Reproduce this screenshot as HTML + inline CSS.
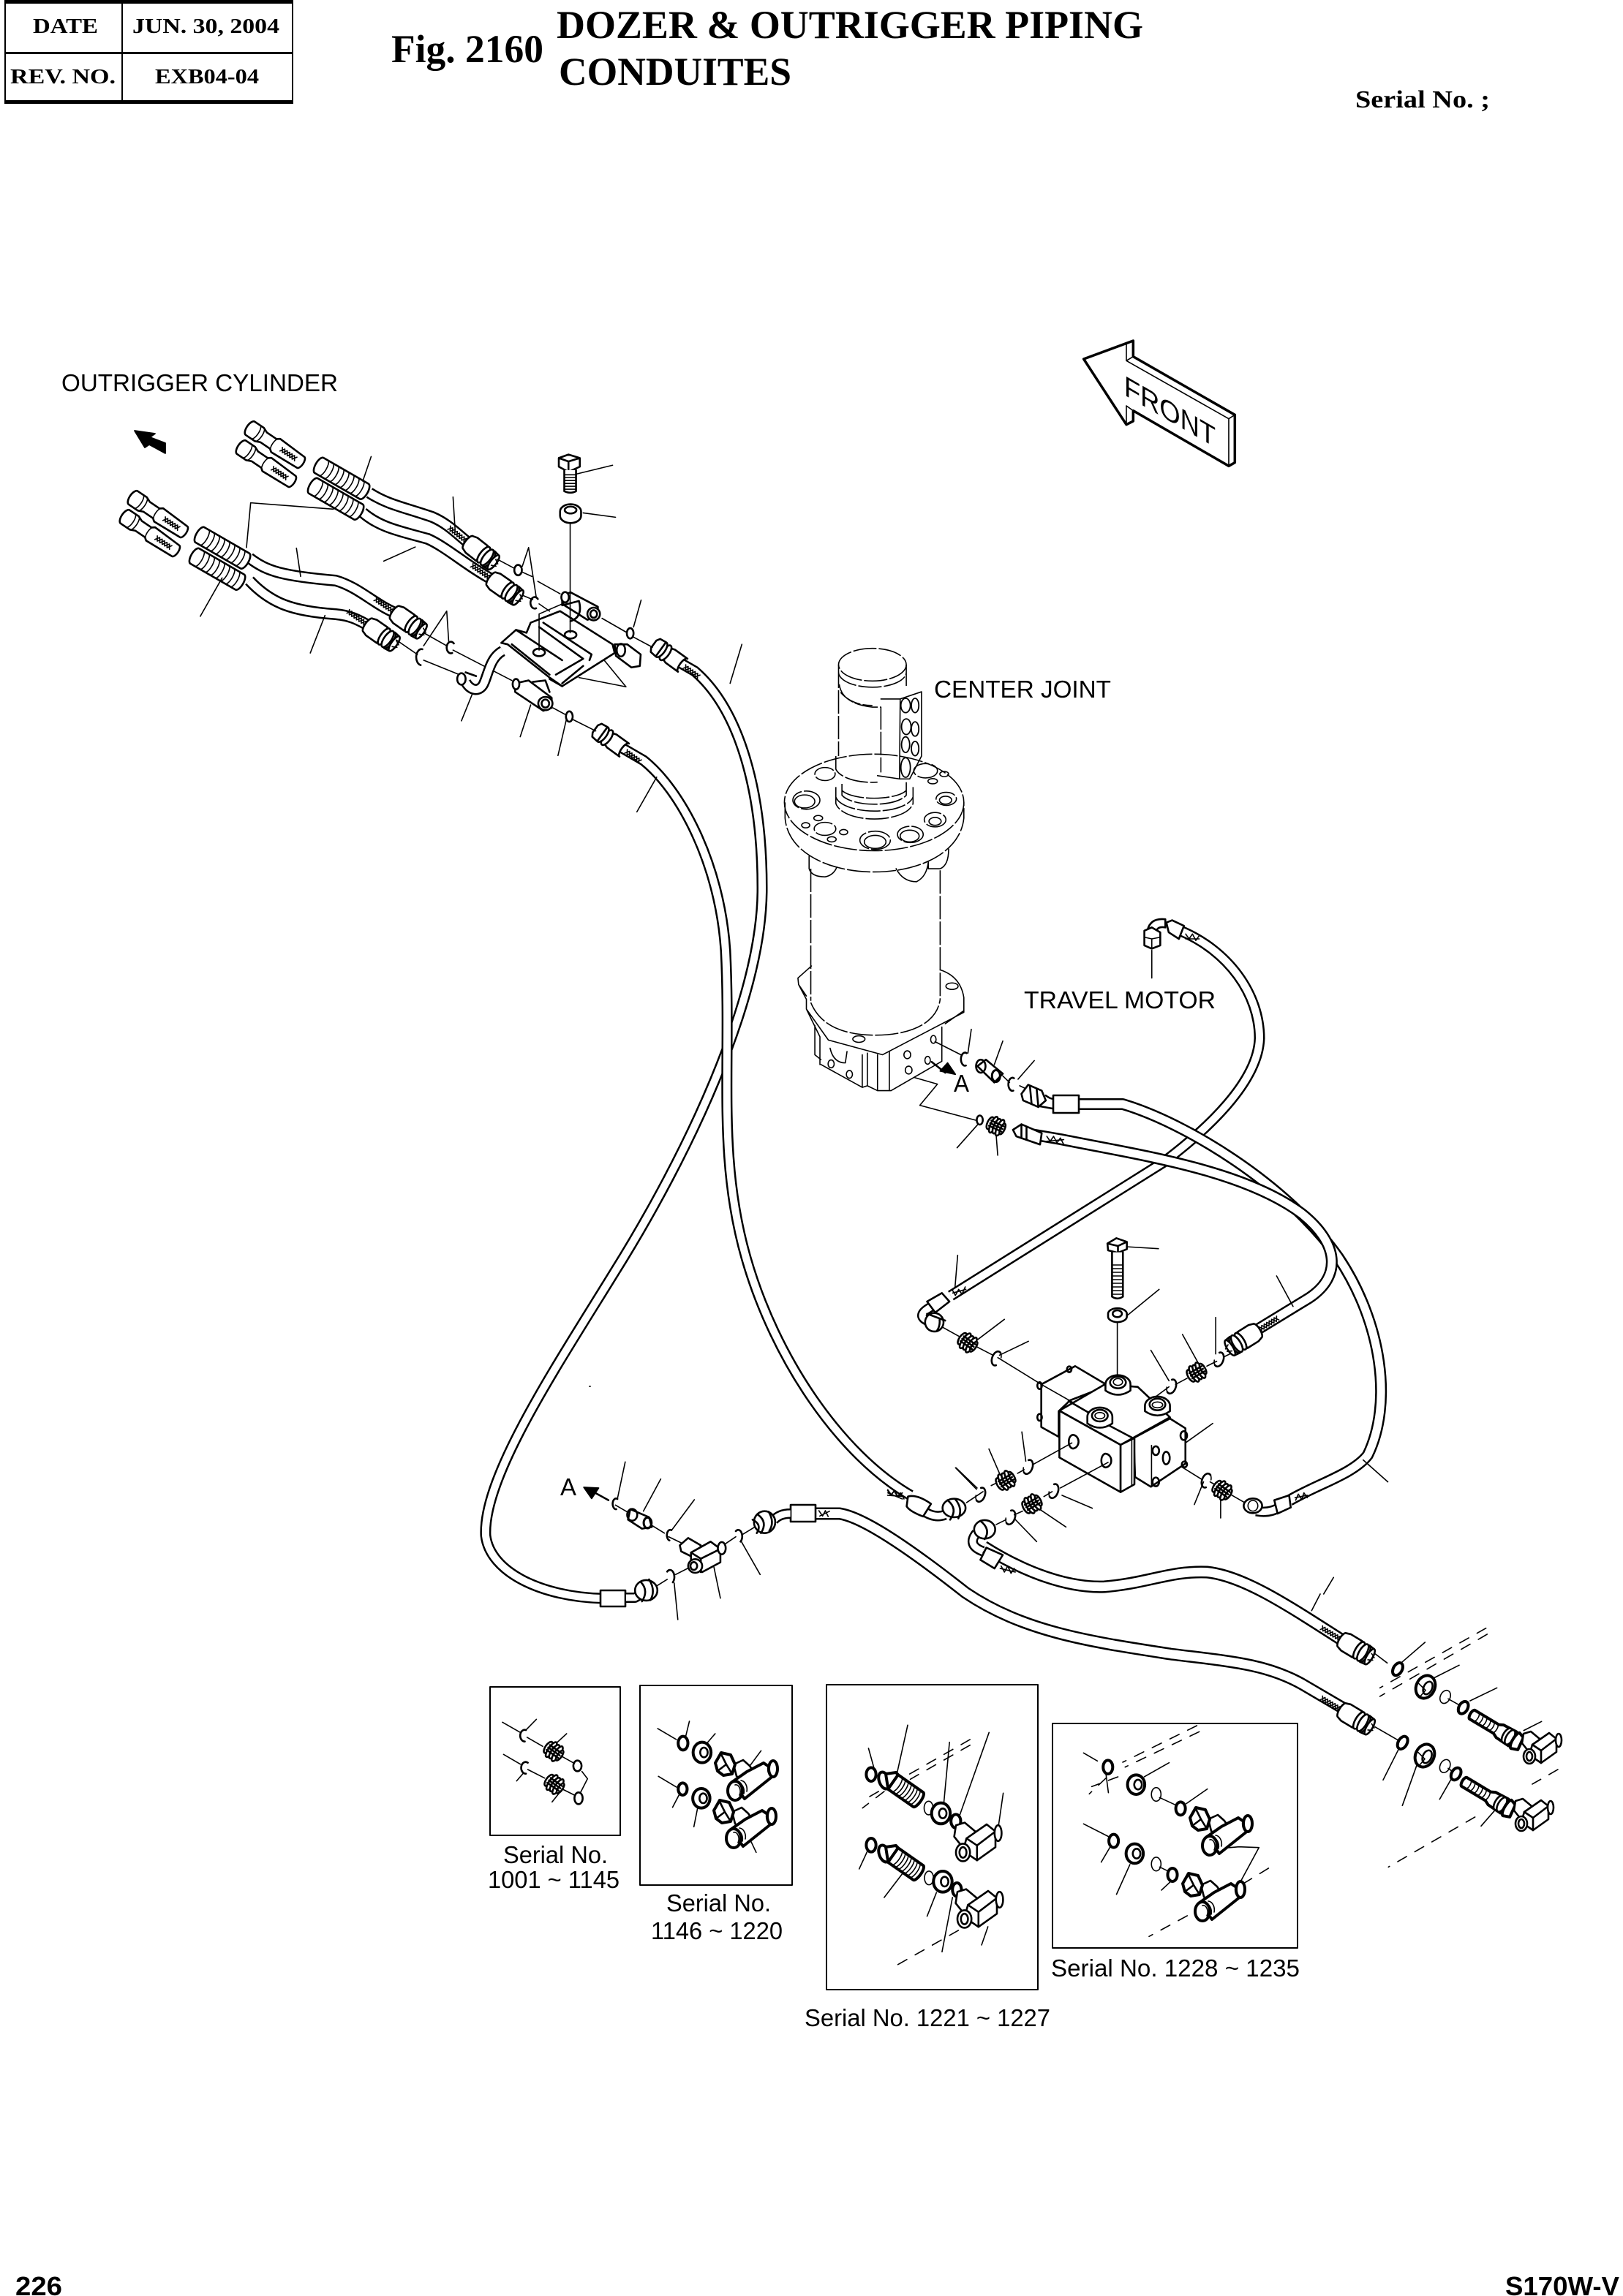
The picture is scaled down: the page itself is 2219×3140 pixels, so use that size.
<!DOCTYPE html>
<html>
<head>
<meta charset="utf-8">
<title>Fig. 2160 Dozer &amp; Outrigger Piping Conduites</title>
<style>
html,body{margin:0;padding:0;background:#fff}
svg{display:block}
svg *{vector-effect:non-scaling-stroke}
path,ellipse,rect,polygon,line{fill:none;stroke:#000;stroke-width:1.8;stroke-linecap:round;stroke-linejoin:round}
.t{stroke-width:1.6}
.m{stroke-width:2.6}
.b{stroke-width:4}
.w{fill:#fff}
.k{fill:#000}
.d{stroke-dasharray:32 3;stroke-linecap:butt;stroke-width:1.6}
.dd{stroke-dasharray:14 13;stroke-width:1.6}
path.to{stroke:#000;stroke-width:16;fill:none;stroke-linecap:butt}
path.ti{stroke:#fff;stroke-width:11;fill:none;stroke-linecap:butt}
text{font-family:"Liberation Sans",sans-serif;fill:#000;stroke:none;font-size:33px}
.s{font-family:"Liberation Serif",serif;font-weight:bold}
.f{font-weight:bold;font-size:36px}
</style>
</head>
<body>
<svg xmlns="http://www.w3.org/2000/svg" width="2219" height="3140" viewBox="0 0 2219 3140">
<defs>
<g id="endfit">
  <path class="t" d="M-33,-3 L-29,3 L-25,-3 L-21,3 L-17,-3 L-13,3 L-9,-3 L-5,3 M-33,3 L-29,-3 L-25,3 L-21,-3 L-17,3 L-13,-3 L-9,3 L-5,-3"/>
  <path class="w m" d="M0,-11 L6,-13 L24,-13 L24,13 L6,13 L0,11 A4 11 0 0 1 0,-11Z"/>
  <ellipse class="w m" cx="27" cy="0" rx="5" ry="13"/>
  <ellipse class="w m" cx="33" cy="0" rx="5" ry="13"/>
  <path class="w m" d="M36,-13 L44,-12 L44,12 L36,13 A5 13 0 0 0 36,-13Z"/>
  <ellipse class="w m" cx="44" cy="0" rx="4" ry="12"/>
  <path class="t" d="M44,-5 L50,-2 M44,5 L50,2"/>
</g>
<g id="hf">
  <path class="t" d="M6,-3 L10,3 L14,-3 L18,3 L22,-3 L26,3 L30,-3 M6,3 L10,-3 L14,3 L18,-3 L22,3 L26,-3 L30,3"/>
  <path class="w m" d="M3,-11 L-18,-11 L-24,-9 L-24,9 L-18,11 L3,11 A4 11 0 0 1 3,-11Z"/>
  <ellipse class="w m" cx="-26" cy="0" rx="5" ry="12"/>
  <ellipse class="w m" cx="-33" cy="0" rx="5" ry="12"/>
  <path class="w m" d="M-34,-12 L-43,-11 L-46,-6 L-46,6 L-43,11 L-34,12Z"/>
</g>
<g id="cp">
  <ellipse class="w m" cx="-9" cy="0" rx="4" ry="9"/>
  <ellipse class="w m" cx="-4" cy="0" rx="4" ry="12"/>
  <ellipse class="w m" cx="1" cy="0" rx="4" ry="11"/>
  <ellipse class="w m" cx="6" cy="0" rx="4" ry="12"/>
  <ellipse class="w m" cx="10" cy="0" rx="3" ry="8"/>
  <path class="m" d="M-9,-4 L10,-4 M-9,0 L10,0 M-9,4 L10,4"/>
</g>
<g id="cr"><path class="m" d="M2,-9 A6 10 0 1 0 2,9"/><path class="t" d="M2,-9 A6 10 0 0 1 5,-3"/></g>
<g id="stub">
  <path class="w m" d="M5,-11 L20,-11 L27,-8 L43,-8 L47,-11 L88,-9 A4 9 0 0 1 88,9 L47,11 L43,8 L27,8 L20,11 L5,11 A5 11 0 0 1 5,-11Z"/>
  <path class="t" d="M14,-11 A4 11 0 0 1 14,11 M20,-11 A4 11 0 0 1 20,11 M47,-11 A5 11 0 0 0 47,11"/>
  <path class="t" d="M56,-3 L60,3 L64,-3 L68,3 L72,-3 L76,3 L80,-3 M56,3 L60,-3 L64,3 L68,-3 L72,3 L76,-3 L80,3"/>
</g>
<g id="rib">
  <path class="w m" d="M5,-12 L76,-12 A5 12 0 0 1 76,12 L5,12 A5 12 0 0 1 5,-12Z"/>
  <path class="t" d="M12,-12 a4 12 0 0 1 0 24 M20,-12 a4 12 0 0 1 0 24 M28,-12 a4 12 0 0 1 0 24 M36,-12 a4 12 0 0 1 0 24 M44,-12 a4 12 0 0 1 0 24 M52,-12 a4 12 0 0 1 0 24 M60,-12 a4 12 0 0 1 0 24 M68,-12 a4 12 0 0 1 0 24"/>
</g>
<g id="tee">
  <path class="w m" d="M12,0 L25,-6 L34,2 L38,8 L26,24 L16,16Z"/>
  <path class="w b" d="M53,-2 L69,9 L67,15 L27,47 L10,24 L30,10Z"/>
  <path class="w b" d="M-13,-2 L-5,-16 L8,-13 L14,0 L10,13 L-2,15 L-10,9Z"/>
  <path class="m" d="M-6,-16 L2,0 L10,13 M2,0 L-10,9"/>
  <ellipse class="w b" cx="14" cy="36" rx="10" ry="13"/>
  <path class="t" d="M18,25 A9 12 0 0 1 26,40 M22,22 A9 12 0 0 1 30,37 M14,28 A6 9 0 0 1 20,42"/>
  <ellipse class="w b" cx="66" cy="6" rx="6" ry="11"/>
  <path class="t" d="M62,-3 A6 10 0 0 0 62,15"/>
</g>
<g id="thb">
  <ellipse class="w b" cx="0" cy="0" rx="7" ry="12" transform="rotate(-20)"/>
  <path class="w b" d="M2,-9 L16,-11 L26,0 L24,12 L12,16 L5,10Z"/>
  <g transform="translate(12,2) rotate(35)">
    <path class="w b" d="M0,-12 L42,-12 A4 12 0 0 1 42,12 L0,12Z"/>
    <path class="t" d="M6,-12a4 12 0 0 1 0 24 M11,-12a4 12 0 0 1 0 24 M16,-12a4 12 0 0 1 0 24 M21,-12a4 12 0 0 1 0 24 M26,-12a4 12 0 0 1 0 24 M31,-12a4 12 0 0 1 0 24 M36,-12a4 12 0 0 1 0 24"/>
  </g>
</g>
<g id="elb">
  <path class="w m" d="M0,-9 L10,-12 L22,-2 L18,10 L6,14 L-2,4Z"/>
  <path class="w m" d="M12,6 L35,-10 L45,-2 L45,16 L24,31 L8,20Z"/>
  <path class="m" d="M12,6 L24,14 L24,31 M24,14 L45,-2"/>
  <ellipse class="w m" cx="48" cy="0" rx="4" ry="9"/>
  <ellipse class="w m" cx="8" cy="22" rx="8" ry="10"/>
  <ellipse class="m" cx="8" cy="22" rx="4" ry="6"/>
</g>
<g id="nut">
  <ellipse class="w b" cx="0" cy="0" rx="11" ry="14" transform="rotate(25)"/>
  <ellipse class="m" cx="3" cy="0" rx="5" ry="8" transform="rotate(25)"/>
  <path class="t" d="M-8,-4 L0,4 L-6,11"/>
</g>
<g id="longth">
  <g transform="rotate(31)">
    <path class="w b" d="M0,-7 L38,-7 L44,-10 L64,-11 A3 11 0 0 1 64,11 L44,10 L38,7 L0,7 A3 7 0 0 1 0,-7Z"/>
    <path class="t" d="M6,-7a3 7 0 0 1 0 14 M12,-7a3 7 0 0 1 0 14 M18,-7a3 7 0 0 1 0 14 M24,-7a3 7 0 0 1 0 14 M30,-7a3 7 0 0 1 0 14 M36,-7a3 7 0 0 1 0 14"/>
    <ellipse class="w m" cx="55" cy="0" rx="5" ry="11"/>
    <ellipse class="w m" cx="60" cy="0" rx="5" ry="11"/>
    <path class="w b" d="M68,-12 L76,-9 L78,9 L70,12 A4 12 0 0 1 68,-12Z"/>
  </g>
</g>
</defs>

<rect x="0" y="0" width="2219" height="3140" style="fill:#fff;stroke:none"/>

<!-- HEADER -->
<path class="k" style="stroke:none" d="M6 0H401V5H6Z M6 71H401V74H6Z M6 137H401V142H6Z"/>
<path style="stroke-width:2" d="M7 0V140 M167 5V137 M400 0V140"/>
<text class="s" x="45" y="45" style="font-size:28px" textLength="89" lengthAdjust="spacingAndGlyphs">DATE</text>
<text class="s" x="181" y="45" style="font-size:28px" textLength="201" lengthAdjust="spacingAndGlyphs">JUN. 30, 2004</text>
<text class="s" x="14" y="114" style="font-size:28px" textLength="144" lengthAdjust="spacingAndGlyphs">REV. NO.</text>
<text class="s" x="212" y="114" style="font-size:28px" textLength="142" lengthAdjust="spacingAndGlyphs">EXB04-04</text>
<text class="s" x="535" y="85" style="font-size:54px" textLength="208" lengthAdjust="spacingAndGlyphs">Fig. 2160</text>
<text class="s" x="761" y="52" style="font-size:54px" textLength="802" lengthAdjust="spacingAndGlyphs">DOZER &amp; OUTRIGGER PIPING</text>
<text class="s" x="764" y="116" style="font-size:54px" textLength="318" lengthAdjust="spacingAndGlyphs">CONDUITES</text>
<text class="s" x="1853" y="147" style="font-size:34px" textLength="184" lengthAdjust="spacingAndGlyphs">Serial No. ;</text>

<!-- FOOTER -->
<text class="f" x="21" y="3139" textLength="64" lengthAdjust="spacingAndGlyphs">226</text>
<text class="f" x="2058" y="3139" textLength="156" lengthAdjust="spacingAndGlyphs">S170W-V</text>

<!-- LABELS -->
<text x="84" y="535" textLength="378" lengthAdjust="spacingAndGlyphs">OUTRIGGER CYLINDER</text>
<text x="1277" y="954" textLength="242" lengthAdjust="spacingAndGlyphs">CENTER JOINT</text>
<text x="1400" y="1379" textLength="262" lengthAdjust="spacingAndGlyphs">TRAVEL MOTOR</text>
<text x="1304" y="1493" textLength="21" lengthAdjust="spacingAndGlyphs">A</text>
<text x="766" y="2045" textLength="22" lengthAdjust="spacingAndGlyphs">A</text>
<text x="688" y="2548" textLength="143" lengthAdjust="spacingAndGlyphs">Serial No.</text>
<text x="667" y="2582" textLength="180" lengthAdjust="spacingAndGlyphs">1001 ~ 1145</text>
<text x="911" y="2614" textLength="143" lengthAdjust="spacingAndGlyphs">Serial No.</text>
<text x="890" y="2652" textLength="180" lengthAdjust="spacingAndGlyphs">1146 ~ 1220</text>
<text x="1100" y="2771" textLength="336" lengthAdjust="spacingAndGlyphs">Serial No. 1221 ~ 1227</text>
<text x="1437" y="2703" textLength="340" lengthAdjust="spacingAndGlyphs">Serial No. 1228 ~ 1235</text>

<!-- FRONT arrow -->
<g transform="translate(1440,440) scale(.3333)">
  <path class="w b" style="stroke-width:3.5" d="M125 153 L328 78 L328 143 L745 382 L745 578 L720 592 L328 365 L328 408 L300 422 Z"/>
  <path class="t" d="M300 88 V160 L720 398 V592 M300 160 L328 143 M720 398 L745 382 M300 345 V422 M300 345 L328 365"/>
</g>
<text transform="translate(1537,540) skewY(30)" style="font-size:39px" x="0" y="0" textLength="125" lengthAdjust="spacingAndGlyphs">FRONT</text>

<polygon class="k" points="184,589 212,593 205,598 226,606 226,620 204,608 198,612"/>
<path d="M806 1896h1"/>

<!-- LONG HOSES -->
<path class="to" style="stroke-width:15" d="M1612 1272 C1680 1300 1722 1360 1722 1420 C1720 1480 1650 1545 1590 1590 L1300 1772"/>
<path class="ti" style="stroke-width:10" d="M1612 1272 C1680 1300 1722 1360 1722 1420 C1720 1480 1650 1545 1590 1590 L1300 1772"/>
<path class="to" d="M1466 1510 L1535 1510 C1620 1535 1760 1620 1830 1720 C1890 1810 1904 1920 1870 1990 C1850 2016 1800 2030 1763 2052"/>
<path class="ti" d="M1466 1510 L1535 1510 C1620 1535 1760 1620 1830 1720 C1890 1810 1904 1920 1870 1990 C1850 2016 1800 2030 1763 2052"/>
<path class="to" d="M1392 1548 L1450 1558 C1560 1580 1700 1600 1780 1660 C1830 1700 1835 1745 1790 1775 L1700 1830"/>
<path class="ti" d="M1392 1548 L1450 1558 C1560 1580 1700 1600 1780 1660 C1830 1700 1835 1745 1790 1775 L1700 1830"/>
<path class="to" style="stroke-width:15" d="M905 892 L950 918 C1010 970 1043 1080 1042 1220 C1040 1370 940 1580 840 1740 C760 1870 660 2020 664 2100 C670 2150 740 2184 824 2186"/>
<path class="ti" style="stroke-width:10" d="M905 892 L950 918 C1010 970 1043 1080 1042 1220 C1040 1370 940 1580 840 1740 C760 1870 660 2020 664 2100 C670 2150 740 2184 824 2186"/>
<path class="to" style="stroke-width:15" d="M825 1008 L880 1040 C930 1080 984 1180 992 1300 C1000 1460 980 1580 1020 1720 C1060 1860 1150 1990 1245 2045"/>
<path class="ti" style="stroke-width:10" d="M825 1008 L880 1040 C930 1080 984 1180 992 1300 C1000 1460 980 1580 1020 1720 C1060 1860 1150 1990 1245 2045"/>
<path class="to" style="stroke-width:17" d="M1345 2115 C1400 2150 1460 2172 1510 2170 C1570 2165 1600 2148 1650 2150 C1700 2155 1760 2195 1838 2245"/>
<path class="ti" style="stroke-width:12" d="M1345 2115 C1400 2150 1460 2172 1510 2170 C1570 2165 1600 2148 1650 2150 C1700 2155 1760 2195 1838 2245"/>
<path class="to" style="stroke-width:17" d="M1112 2070 L1148 2070 C1180 2075 1240 2115 1320 2178 C1400 2232 1490 2245 1600 2262 C1680 2272 1730 2275 1780 2303 L1838 2337"/>
<path class="ti" style="stroke-width:12" d="M1112 2070 L1148 2070 C1180 2075 1240 2115 1320 2178 C1400 2232 1490 2245 1600 2262 C1680 2272 1730 2275 1780 2303 L1838 2337"/>
<path class="to" d="M505 674 C530 690 550 693 591 707 C612 716 625 730 640 742"/><path class="ti" d="M505 674 C530 690 550 693 591 707 C612 716 625 730 640 742"/>
<path class="to" d="M496 701 C520 722 550 727 585 737 C610 748 640 775 672 792"/><path class="ti" d="M496 701 C520 722 550 727 585 737 C610 748 640 775 672 792"/>
<path class="to" d="M341 763 C365 782 390 788 459 794 C490 803 510 825 540 838"/><path class="ti" d="M341 763 C365 782 390 788 459 794 C490 803 510 825 540 838"/>
<path class="to" d="M341 794 C370 825 400 836 459 840 C480 842 490 848 503 855"/><path class="ti" d="M341 794 C370 825 400 836 459 840 C480 842 490 848 503 855"/>

<rect class="w m" x="1440" y="1498" width="35" height="24"/>
<rect class="w m" x="821" y="2175" width="34" height="22"/>
<rect class="w m" x="1081" y="2058" width="34" height="23"/>

<!-- TOP-LEFT -->
<use href="#stub" transform="translate(338,583) rotate(34)"/>
<use href="#stub" transform="translate(326,609) rotate(34)"/>
<use href="#stub" transform="translate(178,678) rotate(34)"/>
<use href="#stub" transform="translate(167,704) rotate(34)"/>
<use href="#rib" transform="translate(432,634) rotate(30)"/>
<use href="#rib" transform="translate(424,662) rotate(30)"/>
<use href="#rib" transform="translate(269,729) rotate(30)"/>
<use href="#rib" transform="translate(262,758) rotate(30)"/>
<use href="#endfit" transform="translate(640,742) rotate(38)"/>
<use href="#endfit" transform="translate(672,792) rotate(35)"/>
<use href="#endfit" transform="translate(540,838) rotate(35)"/>
<use href="#endfit" transform="translate(503,855) rotate(35)"/>
<use href="#hf" transform="translate(931,908) rotate(36)"/>
<use href="#hf" transform="translate(851,1024) rotate(36)"/>

<!-- ZOOM 2 REGION -->
<g transform="translate(120,500) scale(.574,.395)">
  <path class="t" d="M675 315 L655 400 M870 455 L875 570 M1250 345 L1165 375 M1257 525 L1180 510 M705 677 L780 628 M388 475 L585 497 M388 475 L378 630 M497 632 L507 730 M268 868 L320 735 M530 995 L565 865 M1050 630 L1035 695 M1050 630 L1068 800 M855 850 L800 970 M855 850 L860 960 M1318 812 L1300 905 M1558 965 L1530 1100 M890 1230 L915 1140 M1030 1285 L1055 1175 M1120 1350 L1140 1225 M1355 1425 L1308 1545 M1282 1112 L1230 1020 M1282 1112 L1170 1080"/>
  <path class="t" d="M975 670 L1020 705 M1035 715 L1058 730 M1072 747 L1125 790 M1035 795 L1060 810 M1075 825 L1100 850 M1225 875 L1285 925 M1300 940 L1345 975 M800 925 L855 970 M870 985 L1010 1090 M735 950 L785 1000 M800 1020 L885 1070 M1108 1185 L1140 1210 M1155 1225 L1210 1265"/>
  <path class="w m" d="M985 960 L1020 915 L1045 925 L1055 890 L1125 850 L1250 965 L1255 995 L1130 1110 L1100 1080 L1000 965 Z"/>
  <path class="m" d="M1010 965 L1100 1070 M1085 890 L1200 1000 L1195 1020 M1075 905 L1180 1015 L1115 1070 M1180 1040 L1130 1100 M1020 915 L1130 1020"/>
  <path class="w m" d="M1130 795 L1150 785 L1215 835 L1215 870 L1190 880 L1130 825 Z"/>
  <ellipse class="w m" cx="1205" cy="860" rx="15" ry="22"/><ellipse class="m" cx="1205" cy="860" rx="8" ry="13"/>
  <ellipse class="w m" cx="1137" cy="802" rx="9" ry="18"/>
  <path class="m" d="M1130 830 L1170 815 Q1180 870 1150 885"/>
  <path class="w m" d="M1255 965 L1285 965 L1317 1000 L1315 1040 L1295 1045 L1258 1005Z"/>
  <ellipse class="m" cx="1270" cy="985" rx="10" ry="22"/>
  <path class="to" style="stroke-width:15" d="M988 988 C960 1010 955 1060 945 1095 C935 1135 910 1125 900 1095"/>
  <path class="ti" style="stroke-width:10" d="M988 988 C960 1010 955 1060 945 1095 C935 1135 910 1125 900 1095"/>
  <ellipse class="w m" cx="890" cy="1085" rx="10" ry="20"/>
  <path class="m" d="M900 1062 L925 1075"/>
  <path class="w m" d="M1018 1100 L1050 1090 L1105 1150 L1105 1185 L1085 1195 L1018 1130Z"/>
  <ellipse class="w m" cx="1090" cy="1170" rx="17" ry="23"/><ellipse class="m" cx="1090" cy="1170" rx="9" ry="14"/>
  <ellipse class="w m" cx="1020" cy="1103" rx="8" ry="18"/>
  <path class="m" d="M1060 1095 L1090 1090 L1100 1130 M1100 1085 L1130 1110"/>
  <ellipse class="w m" cx="1150" cy="932" rx="14" ry="13"/>
  <ellipse class="w m" cx="1075" cy="993" rx="14" ry="13"/>
  <path class="t" d="M1149 530 V925 M1075 860 V985 M1075 860 L1135 822"/>
  <path class="w m" d="M1122 320 L1145 308 L1172 320 L1172 350 L1145 368 L1122 350Z M1122 320 L1145 332 L1172 320 M1145 332 V368"/>
  <path class="w m" d="M1135 362 V435 Q1150 445 1163 435 V362"/>
  <path class="t" d="M1135 378 H1163 M1135 388 H1163 M1135 398 H1163 M1135 408 H1163 M1135 418 H1163 M1135 428 H1163"/>
  <path class="w m" d="M1125 505 A25 25 0 0 1 1175 505 V520 A25 25 0 0 1 1125 520Z"/>
  <ellipse class="m" cx="1150" cy="500" rx="14" ry="12"/>
  <ellipse class="w m" cx="1025" cy="708" rx="9" ry="18"/>
  <ellipse class="w m" cx="1292" cy="927" rx="8" ry="18"/>
  <ellipse class="w m" cx="1147" cy="1215" rx="8" ry="18"/>
  <path class="m" d="M1072 808 A10 20 0 1 0 1068 840 M872 962 A10 20 0 1 0 868 995 M797 982 A10 22 0 1 0 793 1037"/>
</g>

<!-- ZOOM 3 REGION: CENTER JOINT -->
<g transform="translate(1040,880) scale(.463,.4464)">
  <ellipse class="d" cx="330" cy="65" rx="100" ry="50"/>
  <path class="d" d="M230 65 V345 M430 65 V130 M230 88 A100 46 0 0 0 430 88 M232 125 Q240 185 330 195 L355 195 V395 M236 150 Q270 190 330 190"/>
  <path class="w t" d="M412 170 L475 148 V345 L440 415 L410 415 Z"/>
  <path class="t" d="M355 170 H412 M345 405 L410 415"/>
  <ellipse style="stroke-width:1.8" cx="428" cy="190" rx="14" ry="22"/><ellipse style="stroke-width:1.8" cx="456" cy="190" rx="11" ry="22"/>
  <ellipse style="stroke-width:1.8" cx="430" cy="255" rx="14" ry="24"/><ellipse style="stroke-width:1.8" cx="456" cy="262" rx="11" ry="22"/>
  <ellipse style="stroke-width:1.8" cx="428" cy="310" rx="12" ry="24"/><ellipse style="stroke-width:1.8" cx="456" cy="322" rx="11" ry="22"/>
  <ellipse style="stroke-width:1.8" cx="428" cy="380" rx="14" ry="30"/>
  <path class="d" d="M222 345 V385 A110 50 0 0 0 345 425 M222 440 V490 A115 55 0 0 0 450 490 V440 M240 430 V465 A100 40 0 0 0 430 465 V425 M222 470 A115 50 0 0 0 450 470 M240 450 A100 35 0 0 0 430 450"/>
  <ellipse class="d" cx="335" cy="487" rx="265" ry="148"/>
  <path class="d" d="M72 487 V535 C80 640 200 700 335 700 C470 700 590 640 600 535 V487"/>
  <ellipse class="d" cx="135" cy="480" rx="40" ry="28"/><ellipse class="t" cx="130" cy="484" rx="30" ry="20"/>
  <ellipse class="d" cx="190" cy="568" rx="32" ry="20"/>
  <ellipse class="d" cx="338" cy="603" rx="45" ry="28"/><ellipse class="t" cx="338" cy="608" rx="32" ry="20"/>
  <ellipse class="d" cx="442" cy="585" rx="38" ry="25"/><ellipse class="t" cx="440" cy="590" rx="28" ry="18"/>
  <ellipse class="d" cx="515" cy="540" rx="32" ry="22"/><ellipse class="t" cx="515" cy="545" rx="18" ry="12"/>
  <ellipse class="d" cx="548" cy="476" rx="30" ry="20"/><ellipse class="t" cx="546" cy="480" rx="18" ry="12"/>
  <ellipse class="d" cx="487" cy="390" rx="35" ry="22"/>
  <ellipse class="d" cx="190" cy="400" rx="30" ry="20"/>
  <ellipse class="t" cx="170" cy="535" rx="13" ry="8"/><ellipse class="t" cx="133" cy="557" rx="12" ry="8"/><ellipse class="t" cx="210" cy="600" rx="13" ry="8"/><ellipse class="t" cx="245" cy="578" rx="12" ry="8"/><ellipse class="t" cx="508" cy="422" rx="14" ry="8"/><ellipse class="t" cx="542" cy="400" rx="13" ry="8"/>
  <path class="t" d="M143 652 V690 Q150 715 190 715 Q215 710 225 685 M400 690 Q420 730 460 730 Q490 715 495 670 V690 H530 Q555 680 555 630"/>
  <path class="d" d="M148 690 V1095 M530 695 V1090"/>
  <path class="d" d="M148 1100 C180 1180 260 1200 340 1200 C430 1200 520 1170 530 1090"/>
  <path class="t" d="M150 988 L110 1025 L112 1045 L135 1090 V1120 L200 1215 L360 1260 L600 1130 V1085 Q590 1020 530 1000 M135 1120 L175 1205 V1290 M160 1170 V1260 L178 1275 M178 1290 L300 1360 L315 1355 L345 1370 L385 1370 L535 1280 V1175 M300 1260 V1360 M315 1255 V1355 M345 1260 V1370 M380 1250 V1370 M112 1045 L135 1080 M545 1165 L600 1125 M205 1240 Q215 1285 250 1285 L255 1250"/>
  <ellipse class="t" cx="565" cy="1050" rx="18" ry="10"/><ellipse class="t" cx="290" cy="1212" rx="18" ry="10"/>
  <ellipse class="t" cx="433" cy="1260" rx="10" ry="12"/><ellipse class="t" cx="437" cy="1307" rx="10" ry="12"/><ellipse class="t" cx="208" cy="1288" rx="9" ry="12"/><ellipse class="t" cx="262" cy="1320" rx="9" ry="12"/>
  <ellipse class="t" cx="510" cy="1213" rx="8" ry="12"/><ellipse class="t" cx="493" cy="1277" rx="8" ry="12"/>
  <path class="t" d="M515 1220 L595 1262 M622 1182 L612 1255 M715 1218 L690 1290 M715 1325 L735 1345 M808 1278 L760 1335 M765 1355 L785 1365 M455 1330 L522 1350 L470 1415 L640 1462 M640 1475 L580 1545 M695 1500 L700 1568"/>
  <path class="m" d="M505 1282 L545 1315"/>
  <polygon class="k" points="575,1320 530,1310 552,1285"/>
  <path class="m" d="M608 1255 A12 20 0 1 0 606 1293"/>
  <path class="w m" d="M640 1295 L665 1275 L715 1318 L690 1345 Z"/>
  <ellipse class="m" cx="650" cy="1295" rx="14" ry="20"/><ellipse class="b" style="stroke-width:3" cx="695" cy="1325" rx="12" ry="18"/>
  <path class="m" d="M748 1332 A12 20 0 1 0 746 1370"/>
  <ellipse class="w m" cx="647" cy="1460" rx="9" ry="14"/>
  <use href="#cp" transform="translate(695,1478) scale(2.1,2.2) rotate(25)"/>
  <path class="to" style="stroke-width:0" d="M0 0"/>
  <path class="w m" d="M745 1490 L770 1473 L830 1500 L825 1535 L755 1510 Z"/>
  <path class="m" d="M770 1473 V1515 M785 1480 V1520"/>
  <path class="t" d="M845 1510 L855 1525 L865 1510 L875 1530 L885 1515 L895 1535 M845 1525 L895 1520"/>
  <path class="w m" d="M770 1380 L790 1352 L830 1370 L842 1400 L820 1420 L775 1400Z"/>
  <path class="m" d="M795 1355 L800 1410 M815 1365 L820 1420"/>
  <path class="m" d="M842 1385 Q855 1395 863 1395 M825 1418 L863 1425"/>
  <path class="m" d="M1142 880 Q1150 840 1195 845 L1195 870 Q1170 865 1168 885"/>
  <path class="w m" d="M1133 880 L1155 870 L1180 885 V925 L1155 935 L1133 925Z"/>
  <path class="t" d="M1133 900 L1155 905 L1180 900 M1155 905 V935"/>
  <path class="t" d="M1155 940 V1025"/>
  <path class="w m" d="M1198 855 L1215 848 L1250 865 L1235 905 L1205 885Z"/>
  <path class="t" d="M1255 890 L1265 905 L1275 890 L1285 910 L1295 895 M1255 905 L1295 905"/>
</g>

<!-- ZOOM 4 REGION: VALVE -->
<g transform="translate(1200,1680) scale(.45,.3333)">
  <path class="t" d="M243 110 L235 240 M853 83 L755 75 M855 250 L760 355 M385 373 L300 460 M458 463 L370 520 M1027 365 V515 M926 435 L975 555 M830 500 L885 625 M1212 195 L1262 320 M1018 800 L935 880 M1550 1040 L1475 950 M438 835 L450 955 M338 905 L370 1005 M238 982 L302 1065 M652 1148 L560 1095 M572 1225 L495 1155 M483 1285 L415 1190 M1042 1188 V1085 M962 1133 L990 1040 M1385 1432 L1355 1500"/>
  <path class="t" d="M365 530 L497 640 M190 400 L250 445 M300 485 L350 520 M845 690 L885 650 M905 640 L940 615 M1000 565 L1030 545 M1055 525 L1085 505 M890 950 L985 1030 M1010 1040 L1030 1055 M1070 1090 L1115 1125 M445 990 L425 1005 M320 1080 L270 1125 M345 1055 L360 1045 M530 1080 L505 1100 M440 1160 L415 1175 M390 1195 L360 1215"/>
  <path class="w m" d="M497 640 L600 565 L700 645 L585 705 L550 750 L550 855 L497 815 Z"/>
  <path class="t" d="M497 640 L640 750"/>
  <path class="w m" d="M778 860 L888 780 L935 820 V965 L830 1060 L782 1020 Z"/>
  <path class="t" d="M832 890 V1060"/>
  <path class="w m" d="M552 748 L690 640 L790 650 L888 775 L738 888 Z"/>
  <path class="m" d="M580 708 L640 755 M705 810 L775 860"/>
  <path class="w m" d="M552 748 V940 L738 1082 V888 Z"/>
  <path class="w m" d="M738 888 L780 860 V1050 L738 1082 Z"/>
  <path class="t" d="M772 865 V1055"/>
  <path class="t" d="M590 880 L470 970 M700 960 L555 1065"/>
  <path class="w m" d="M692 640 V665 Q730 700 768 665 V640 A38 38 0 0 0 692 640Z"/><ellipse class="m" cx="730" cy="632" rx="24" ry="24"/><ellipse class="t" cx="730" cy="630" rx="14" ry="14"/>
  <path class="w m" d="M637 773 V800 Q675 835 713 800 V773 A38 38 0 0 0 637 773Z"/><ellipse class="m" cx="675" cy="768" rx="24" ry="24"/><ellipse class="t" cx="675" cy="768" rx="15" ry="13"/>
  <path class="w m" d="M812 728 V750 Q850 785 888 750 V728 A38 38 0 0 0 812 728Z"/><ellipse class="m" cx="850" cy="722" rx="24" ry="24"/><ellipse class="t" cx="850" cy="724" rx="16" ry="12"/>
  <path class="t" d="M728 385 V600"/>
  <path class="m" d="M597 848 A13 28 0 1 0 597 902 A18 28 0 0 0 597 848"/>
  <path class="m" d="M695 925 A13 28 0 1 0 695 980 A18 28 0 0 0 695 925"/>
  <path class="m" d="M880 918 A10 26 0 1 0 875 968 A12 26 0 0 0 880 918"/>
  <ellipse class="m" cx="930" cy="850" rx="10" ry="18"/><ellipse class="m" cx="845" cy="912" rx="10" ry="18"/><ellipse class="m" cx="845" cy="1040" rx="10" ry="18"/><ellipse class="m" cx="932" cy="968" rx="8" ry="12"/><ellipse class="m" cx="492" cy="645" rx="7" ry="14"/><ellipse class="m" cx="492" cy="775" rx="7" ry="14"/><ellipse class="m" cx="582" cy="578" rx="7" ry="12"/>
  <path class="w m" d="M698 62 L725 40 L757 55 L757 85 L730 100 L700 90Z M698 62 L730 72 L757 55 M730 72 V100"/>
  <path class="w m" d="M712 98 V280 Q728 295 745 280 V98"/>
  <path class="t" d="M712 150 H745 M712 165 H745 M712 180 H745 M712 195 H745 M712 210 H745 M712 225 H745 M712 240 H745 M712 255 H745 M712 270 H745"/>
  <path class="w m" d="M700 350 A28 22 0 0 1 757 350 V362 A28 22 0 0 1 700 362Z"/>
  <ellipse class="m" cx="728" cy="350" rx="14" ry="14"/>
  <path class="to" style="stroke-width:14" d="M135 1155 Q170 1192 205 1175"/><path class="ti" style="stroke-width:9" d="M135 1155 Q170 1192 205 1175"/>
  <path class="w m" d="M92 1100 Q120 1090 162 1130 L138 1182 Q96 1160 88 1140 Z"/><path class="t" d="M30 1075 L40 1095 L50 1078 L60 1100 L70 1085 L80 1110 M30 1095 L78 1100"/>
  <ellipse class="w m" cx="232" cy="1147" rx="35" ry="38"/><path class="m" d="M212 1115 Q245 1150 220 1195 M235 1110 Q260 1150 245 1190"/>
  <path class="to" style="stroke-width:14" d="M1220 1145 Q1190 1170 1150 1160"/><path class="ti" style="stroke-width:9" d="M1220 1145 Q1190 1170 1150 1160"/>
  <path class="w m" d="M1205 1115 L1250 1095 L1255 1145 L1215 1170Z"/><path class="t" d="M1270 1115 L1278 1090 L1288 1112 L1295 1085 L1305 1105 M1268 1105 L1305 1095"/>
  <ellipse class="w m" cx="1140" cy="1138" rx="28" ry="30"/><ellipse class="t" cx="1140" cy="1138" rx="15" ry="22"/>
  <path class="to" style="stroke-width:14" d="M300 1250 Q270 1300 320 1325"/><path class="ti" style="stroke-width:9" d="M300 1250 Q270 1300 320 1325"/>
  <ellipse class="w m" cx="325" cy="1235" rx="32" ry="38"/><path class="m" d="M312 1200 Q345 1235 325 1275"/>
  <path class="w m" d="M330 1310 L380 1340 L355 1395 L312 1360Z"/><path class="t" d="M375 1385 L385 1410 L395 1385 L405 1415 L415 1395 M372 1395 L418 1410"/>
  <path class="to" style="stroke-width:14" d="M165 320 Q115 355 150 378"/><path class="ti" style="stroke-width:9" d="M165 320 Q115 355 150 378"/>
  <ellipse class="w m" cx="172" cy="385" rx="28" ry="38"/><path class="m" d="M150 350 L205 378 M188 375 Q190 400 180 420"/>
  <path class="w m" d="M150 300 L195 265 L218 300 L175 345 Z"/><path class="t" d="M228 255 L236 275 L246 250 L256 270 L266 240 M228 265 L268 250"/>
</g>
<use href="#cp" transform="translate(1323,1836) rotate(35)"/>
<use href="#cp" transform="translate(1636,1877) rotate(-30)"/>
<use href="#cp" transform="translate(1671,2038) rotate(35)"/>
<use href="#cp" transform="translate(1375,2025) rotate(-30)"/>
<use href="#cp" transform="translate(1411,2057) rotate(-30)"/>
<use href="#cr" transform="translate(1363,1858) rotate(20)"/>
<use href="#cr" transform="translate(1601,1896) rotate(200)"/>
<use href="#cr" transform="translate(1666,1859) rotate(200)"/>
<use href="#cr" transform="translate(1650,2025) rotate(20)"/>
<use href="#cr" transform="translate(1405,2006) rotate(200)"/>
<use href="#cr" transform="translate(1340,2044) rotate(200)"/>
<use href="#cr" transform="translate(1440,2039) rotate(200)"/>
<use href="#cr" transform="translate(1381,2075) rotate(200)"/>
<use href="#endfit" transform="translate(1719,1820) rotate(148)"/>

<!-- ZOOM 7 REGION -->
<g transform="translate(740,1960) scale(.3827,.3333)">
  <path class="t" d="M300 118 L272 270 M427 188 L365 320 M547 273 L468 395 M715 445 L782 580 M617 550 L640 677 M475 615 L488 765 M1480 142 L1555 230"/>
  <path class="t" d="M265 295 L310 325 M390 375 L440 410 M455 425 L500 450 M650 460 L695 425 M720 415 L770 380 M480 580 L535 548 M415 625 L450 600"/>
  <path class="m" d="M240 275 L185 240"/>
  <polygon class="k" points="152,222 205,225 180,268"/>
  <path class="m" d="M272 270 A12 22 0 1 0 268 312 M465 398 A12 22 0 1 0 458 440 M695 402 A12 22 0 1 1 712 445 M450 568 A12 22 0 1 1 470 612"/>
  <path class="w m" d="M318 312 L385 345 L395 385 L360 392 L310 355 Z"/>
  <ellipse class="m" cx="325" cy="335" rx="18" ry="24"/><ellipse class="b" style="stroke-width:3" cx="380" cy="368" rx="14" ry="22"/>
  <path class="w m" d="M495 460 L525 430 L570 460 L565 490 L535 505 L500 485Z"/>
  <path class="w m" d="M535 490 L605 445 L640 475 V530 L575 570 L535 520 Z"/>
  <path class="m" d="M570 515 L640 475 M570 515 V570 M535 490 L570 515"/>
  <ellipse class="w m" cx="550" cy="545" rx="25" ry="28"/><ellipse class="m" cx="545" cy="545" rx="12" ry="16"/>
  <ellipse class="w m" cx="645" cy="472" rx="14" ry="25"/>
  <path class="to" style="stroke-width:14" d="M830 358 Q850 330 890 330"/><path class="ti" style="stroke-width:9" d="M830 358 Q850 330 890 330"/>
  <ellipse class="w m" cx="798" cy="365" rx="38" ry="45"/><path class="m" d="M775 335 Q810 365 785 410 M812 322 Q835 365 815 400 M755 355 Q790 375 770 410"/>
  <path class="to" style="stroke-width:14" d="M303 675 H335 L355 662"/><path class="ti" style="stroke-width:9" d="M303 675 H335 L355 662"/>
  <ellipse class="w m" cx="375" cy="645" rx="40" ry="42"/><path class="m" d="M355 610 Q385 645 360 690 M385 600 Q410 645 390 685"/>
  <path class="t" d="M992 318 L1005 340 L1015 318 L1025 342 M995 340 L1030 320"/>
  <path class="t" d="M1238 232 L1250 252 L1262 235 L1275 262 L1290 245 M1238 245 L1290 270"/>
</g>

<!-- ZOOM 8 REGION -->
<use href="#endfit" transform="translate(1835,2243) rotate(31)"/>
<use href="#endfit" transform="translate(1835,2339) rotate(31)"/>
<g transform="translate(1780,2180) scale(.3333)">
  <path class="dd" d="M755 140 L320 385 M760 165 L320 420 M1050 720 L945 780 M710 915 L355 1120"/>
  <path class="t" d="M505 198 L410 280 M645 292 L540 345 M800 385 L690 438 M983 523 L910 560 M395 640 L333 763 M472 700 L412 868 M612 760 L565 842 M798 880 L735 952 M75 0 L40 68 M300 245 L350 283 M300 545 L395 600 M600 430 L645 455 M600 715 L620 730"/>
  <ellipse class="w b" cx="393" cy="308" rx="18" ry="28" transform="rotate(30 393 308)"/>
  <ellipse class="w b" cx="413" cy="610" rx="18" ry="28" transform="rotate(30 413 610)"/>
  <ellipse class="t" cx="588" cy="422" rx="20" ry="28" transform="rotate(25 588 422)"/>
  <ellipse class="t" cx="587" cy="706" rx="20" ry="28" transform="rotate(25 587 706)"/>
  <ellipse class="w b" cx="662" cy="466" rx="18" ry="27" transform="rotate(30 662 466)"/>
  <ellipse class="w b" cx="632" cy="738" rx="18" ry="27" transform="rotate(30 632 738)"/>
</g>
<use href="#nut" transform="translate(1949,2307) scale(1.15)"/>
<use href="#nut" transform="translate(1948,2401) scale(1.15)"/>
<use href="#longth" transform="translate(2013,2345)"/>
<use href="#longth" transform="translate(2002,2437)"/>
<use href="#elb" transform="translate(2083,2380)"/>
<use href="#elb" transform="translate(2072,2472)"/>

<!-- SERIAL BOXES -->
<rect style="stroke-width:2" x="670" y="2307" width="178" height="203"/>
<rect style="stroke-width:2" x="875" y="2305" width="208" height="273"/>
<rect style="stroke-width:2" x="1130" y="2304" width="289" height="417"/>
<rect style="stroke-width:2" x="1439" y="2357" width="335" height="307"/>

<g transform="translate(640,2280) scale(.5102,.3333)">
  <path class="t" d="M92 226 L140 268 M183 214 L155 258 M158 288 L200 325 M264 273 L232 318 M250 365 L285 395 M305 428 L320 458 L302 512 M95 358 L140 398 M130 467 L148 435 M160 420 L205 455 M252 500 L285 525 M225 553 L245 515"/>
  <path class="m" d="M155 258 A12 24 0 1 0 152 305 M160 392 A12 24 0 1 0 155 437"/>
  <ellipse class="m" cx="293" cy="405" rx="11" ry="22"/><ellipse class="m" cx="296" cy="538" rx="11" ry="24"/>
  <path class="t" d="M508 252 L558 297 M593 222 L583 285 M662 273 L640 312 M785 343 L755 405 M510 448 L558 492 M548 575 L565 525 M605 655 L615 578 M772 760 L755 705"/>
  <ellipse class="b" cx="576" cy="312" rx="13" ry="28"/><ellipse class="b" cx="575" cy="500" rx="12" ry="25"/>
  <ellipse class="w b" cx="627" cy="350" rx="24" ry="42"/><ellipse class="m" cx="632" cy="350" rx="10" ry="20"/>
  <ellipse class="w b" cx="625" cy="538" rx="23" ry="40"/><ellipse class="m" cx="630" cy="538" rx="10" ry="20"/>
  <path class="t" d="M1073 333 L1087 410 M1178 238 L1148 445 M1290 308 L1275 555 M1396 268 L1318 605 M1434 517 L1420 665 M1070 755 L1048 828 M1165 845 L1115 945 M1255 925 L1230 1022 M1298 945 L1270 1168 M1393 1065 L1376 1140 M1320 650 L1345 668 M1322 925 L1345 940"/>
  <path class="dd" d="M1345 297 L1170 450 M1345 320 L1185 460 M1115 510 L1057 578 M1100 510 L1060 545 M1360 1040 L1143 1228"/>
  <ellipse class="b" cx="1080" cy="440" rx="13" ry="28"/><ellipse class="b" cx="1080" cy="730" rx="13" ry="28"/>
  <ellipse class="t" cx="1234" cy="578" rx="12" ry="28"/><ellipse class="t" cx="1235" cy="865" rx="12" ry="28"/>
  <ellipse class="w b" cx="1267" cy="600" rx="25" ry="43"/><ellipse class="m" cx="1272" cy="600" rx="10" ry="20"/>
  <ellipse class="w b" cx="1272" cy="880" rx="25" ry="43"/><ellipse class="m" cx="1277" cy="880" rx="10" ry="20"/>
  <ellipse class="b" cx="1307" cy="632" rx="13" ry="28"/><ellipse class="b" cx="1310" cy="913" rx="12" ry="28"/>
</g>
<use href="#cp" transform="translate(757,2395) rotate(35)"/>
<use href="#cp" transform="translate(758,2440) rotate(35)"/>
<use href="#tee" transform="translate(991,2413)"/>
<use href="#tee" transform="translate(989,2478)"/>
<use href="#thb" transform="translate(1209,2435)"/>
<use href="#thb" transform="translate(1209,2535)"/>
<use href="#elb" transform="translate(1307,2507) scale(1.2)"/>
<use href="#elb" transform="translate(1309,2598) scale(1.2)"/>

<g transform="translate(1120,2280) scale(.6536,.3333)">
  <path class="t" d="M553 352 L582 385 M605 515 L600 440 M732 392 L680 450 M812 500 L768 560 M553 643 L605 695 M590 800 L608 740 M622 932 L650 810 M716 915 L735 880 M830 745 L878 737 L920 740 L880 885 M712 535 L745 565 M712 820 L728 835"/>
  <path class="dd" d="M790 240 L635 390 M795 265 L640 410 M625 450 L570 490 M600 455 L565 520 M940 825 L890 885 M770 1020 L690 1105"/>
  <ellipse class="b" cx="604" cy="410" rx="10" ry="28"/><ellipse class="b" cx="756" cy="580" rx="10" ry="27"/><ellipse class="b" cx="616" cy="713" rx="10" ry="27"/><ellipse class="b" cx="739" cy="852" rx="10" ry="27"/>
  <ellipse class="t" cx="705" cy="522" rx="10" ry="28"/><ellipse class="t" cx="705" cy="808" rx="10" ry="28"/>
  <ellipse class="w b" cx="663" cy="482" rx="18" ry="40"/><ellipse class="m" cx="667" cy="482" rx="8" ry="20"/>
  <ellipse class="w b" cx="660" cy="765" rx="18" ry="40"/><ellipse class="m" cx="664" cy="765" rx="8" ry="20"/>
</g>
<use href="#tee" transform="translate(1640,2488)"/>
<use href="#tee" transform="translate(1630,2578)"/>
</svg>
</body>
</html>
